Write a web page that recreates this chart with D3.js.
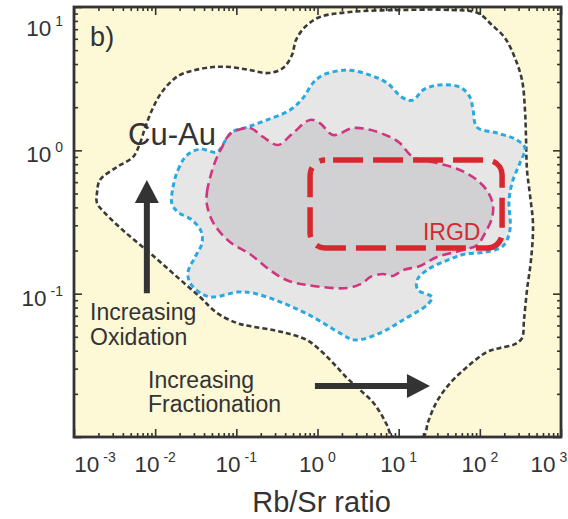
<!DOCTYPE html>
<html><head><meta charset="utf-8">
<script src="https://cdn.jsdelivr.net/npm/d3@7"></script>
<style>
body{margin:0;background:#fff;}
svg{display:block;font-family:"Liberation Sans",Arial,Helvetica,sans-serif;}
</style>
</head><body>
<svg id="chart" width="568" height="519"></svg>
<script>
// ---------- data ----------
const xTickValues = [1e-3, 1e-2, 1e-1, 1e0, 1e1, 1e2, 1e3];
const xTickExponents = ["-3", "-2", "-1", "0", "1", "2", "3"];
const yTickValues = [1e-1, 1e0, 1e1];
const yTickExponents = ["-1", "0", "1"];
const xLabel = "Rb/Sr ratio";
const panelLabel = "b)";

// outer black dashed envelope (Cu-Au)  [Rb/Sr, y]
const cuAuField = [
[1.92e-3,0.504],[2.09e-3,0.621],[3.39e-3,0.765],[5.33e-3,0.898],[6.5e-3,1.12],[7.5e-3,1.43],[9.14e-3,1.91],[1.21e-2,2.55],[1.91e-2,3.30],[3.10e-2,3.63],[5.16e-2,3.81],[8.36e-2,3.81],[0.147,3.63],[0.245,3.46],[0.376,3.75],[0.485,4.62],[0.543,5.88],[0.701,7.25],[1.07,8.51],[2.51,9.22],[10.4,9.53],[42.9,9.53],[94.9,9.08],[141,7.48],[204,6.08],[271,4.40],[331,3.09],[360,1.91],[371,1.18],[381,0.729],[415,0.488],[452,0.301],[427,0.172],[381,0.106],[350,0.0655],[331,0.0490],[271,0.0445],[177,0.0418],[122,0.0392],[69.5,0.0308],[46.7,0.0250],[35.2,0.0206],[28.0,0.0167],[23.0,0.0127],[19.9,0.0100],[8.51,0.0100],[7.18,0.0121],[5.89,0.0149],[4.69,0.0178],[3.34,0.0213],[2.31,0.0258],[1.64,0.0318],[1.14,0.0392],[0.742,0.0475],[0.458,0.0523],[0.283,0.0557],[0.147,0.0594],[0.102,0.0624],[0.0578,0.0733],[0.0357,0.0947],[0.0175,0.135],[8.63e-3,0.192],[4.25e-3,0.269],[2.41e-3,0.365],[1.92e-3,0.429]
];
// blue dotted field
const blueField = [
[0.0166,0.555],[0.0191,0.729],[0.0247,0.927],[0.0357,1.02],[0.0578,0.973],[0.0725,1.16],[0.0885,1.34],[0.135,1.45],[0.239,1.63],[0.458,1.91],[0.663,2.32],[0.880,2.95],[1.17,3.35],[2.31,3.63],[4.43,3.35],[7.18,2.95],[11.3,2.32],[15.0,2.24],[19.9,2.63],[29.7,2.85],[57.0,2.76],[75.6,2.35],[82.4,1.91],[92.3,1.45],[163,1.32],[287,1.18],[360,1.04],[312,0.815],[256,0.621],[229,0.450],[235,0.278],[193,0.215],[116,0.195],[65.6,0.189],[42.9,0.174],[22.3,0.146],[16.8,0.124],[17.3,0.106],[25.7,0.0947],[23.0,0.0847],[11.3,0.0655],[5.89,0.0531],[2.90,0.0475],[1.89,0.0531],[0.880,0.0687],[0.376,0.0861],[0.160,0.101],[0.105,0.1026],[0.0516,0.0947],[0.0378,0.0994],[0.0269,0.119],[0.0254,0.1415],[0.0310,0.180],[0.0378,0.2256],[0.0367,0.2735],[0.0284,0.3266],[0.0191,0.371],[0.0161,0.422]
];
// magenta dashed field
const magentaField = [
[0.0435,0.415],[0.0435,0.512],[0.0474,0.641],[0.0546,0.829],[0.0666,1.05],[0.0836,1.30],[0.147,1.43],[0.213,1.24],[0.326,1.09],[0.499,1.32],[0.808,1.63],[1.07,1.55],[1.55,1.28],[2.74,1.43],[4.43,1.39],[7.82,1.24],[10.4,1.12],[15.0,0.898],[29.7,0.815],[57.0,0.729],[92.3,0.621],[126,0.512],[145,0.415],[141,0.337],[116,0.265],[92.3,0.218],[62.0,0.2015],[29.7,0.180],[18.3,0.156],[11.3,0.146],[8.51,0.133],[6.41,0.137],[4.43,0.1306],[3.64,0.119],[2.31,0.1095],[0.742,0.115],[0.421,0.124],[0.260,0.146],[0.147,0.189],[0.0836,0.229],[0.0531,0.306]
];
// IRGD box corners
const irgdX = [0.81, 188];
const irgdY = [0.208, 0.855];

// annotations
const labelCuAu = {text:"Cu-Au", x:4.63e-3, y:1.09};
const labelIRGD = {text:"IRGD", x:19.9, y:0.237};
const labelPanel = {x:1.58e-3, y:5.34};
const oxidText = {lines:["Increasing","Oxidation"], x:1.58e-3, y:0.0655};
const fracText = {lines:["Increasing","Fractionation"], x:8.17e-3, y:0.022};
const oxidArrow = {x:0.0079, from:0.1007, to:0.621};
const fracArrow = {y:0.0227, from:0.93, to:24.3};

// ---------- layout ----------
const svg = d3.select("#chart");
const L = 74, R = 561, T = 7, B = 437;
const x = d3.scaleLog().domain([1e-3, 1e3]).range([L, R]);
const y = d3.scaleLog().domain([1e-2, 1e1]).range([B, T]);
const ink = "#333";

svg.append("defs").append("clipPath").attr("id","clip")
  .append("rect").attr("x",L).attr("y",T).attr("width",R-L).attr("height",B-T);

svg.append("rect").attr("x",L).attr("y",T).attr("width",R-L).attr("height",B-T).attr("fill","#fdf8d6");

const plot = svg.append("g").attr("clip-path","url(#clip)");
const line = d3.line().x(d=>x(d[0])).y(d=>y(d[1])).curve(d3.curveCatmullRomClosed.alpha(0.5));

plot.append("path").attr("d", line(cuAuField)).attr("fill","#ffffff");
plot.append("path").attr("d", line(blueField)).attr("fill","#e6e6e6");
plot.append("path").attr("d", line(magentaField)).attr("fill","#d1d1d3");

plot.append("path").attr("d", line(cuAuField)).attr("fill","none")
  .attr("stroke","#3a3a3a").attr("stroke-width",2.6).attr("stroke-dasharray","5,3");
plot.append("path").attr("d", line(blueField)).attr("fill","none")
  .attr("stroke","#2aa9e0").attr("stroke-width",3).attr("stroke-dasharray","5,3.5");
plot.append("path").attr("d", line(magentaField)).attr("fill","none")
  .attr("stroke","#d2357f").attr("stroke-width",2.6).attr("stroke-dasharray","9,5");

plot.append("rect")
  .attr("x", x(irgdX[0])).attr("y", y(irgdY[1]))
  .attr("width", x(irgdX[1]) - x(irgdX[0])).attr("height", y(irgdY[0]) - y(irgdY[1]))
  .attr("rx", 15).attr("ry", 15)
  .attr("fill","none").attr("stroke","#d7282f").attr("stroke-width",5.5)
  .attr("stroke-dasharray","30,10").attr("stroke-dashoffset", -8);

// arrows
const ax = x(oxidArrow.x), ay0 = y(oxidArrow.from), ay1 = y(oxidArrow.to);
svg.append("line").attr("x1",ax).attr("x2",ax).attr("y1",ay0).attr("y2",ay1+20)
  .attr("stroke",ink).attr("stroke-width",6);
svg.append("path").attr("d",`M${ax},${ay1} L${ax-12},${ay1+23} L${ax+12},${ay1+23} Z`).attr("fill",ink);
const by = y(fracArrow.y), bx0 = x(fracArrow.from), bx1 = x(fracArrow.to);
svg.append("line").attr("x1",bx0).attr("x2",bx1-20).attr("y1",by).attr("y2",by)
  .attr("stroke",ink).attr("stroke-width",6);
svg.append("path").attr("d",`M${bx1},${by} L${bx1-23},${by-12} L${bx1-23},${by+12} Z`).attr("fill",ink);

// text annotations
svg.append("text").attr("x",x(labelPanel.x)).attr("y",y(labelPanel.y))
  .attr("font-size",27).attr("fill",ink).text(panelLabel);
svg.append("text").attr("x",x(labelCuAu.x)).attr("y",y(labelCuAu.y))
  .attr("font-size",31).attr("fill",ink).text(labelCuAu.text);
svg.append("text").attr("x",x(labelIRGD.x)).attr("y",y(labelIRGD.y))
  .attr("font-size",23).attr("fill","#d7282f").text(labelIRGD.text);
[oxidText, fracText].forEach(t=>{
  const tx = svg.append("text").attr("x",x(t.x)).attr("y",y(t.y)).attr("font-size",23).attr("fill",ink);
  t.lines.forEach((s,i)=>tx.append("tspan").attr("x",x(t.x)).attr("dy", i?24.5:0).text(s));
});

// axes: inward ticks on all four sides
const minorTicks = [];
for (let e=-3; e<3; e++) for (let k=2; k<10; k++) minorTicks.push(k*Math.pow(10,e));
const yMinor = minorTicks.filter(v=>v>1e-2 && v<1e1);
const yMajor = [1e-2,1e-1,1e0,1e1];
function drawAxis(gen, tr, vals, size){
  const g = svg.append("g").attr("transform",tr)
    .call(gen.tickValues(vals).tickSize(size).tickFormat(""));
  g.select(".domain").remove();
  g.selectAll("line").attr("stroke",ink).attr("stroke-width",1.6);
}
drawAxis(d3.axisBottom(x), `translate(0,${B})`, xTickValues, -8);
drawAxis(d3.axisBottom(x), `translate(0,${B})`, minorTicks, -4);
drawAxis(d3.axisTop(x), `translate(0,${T})`, xTickValues, -8);
drawAxis(d3.axisTop(x), `translate(0,${T})`, minorTicks, -4);
drawAxis(d3.axisLeft(y), `translate(${L},0)`, yMajor, -8);
drawAxis(d3.axisLeft(y), `translate(${L},0)`, yMinor, -4);
drawAxis(d3.axisRight(y), `translate(${R},0)`, yMajor, -8);
drawAxis(d3.axisRight(y), `translate(${R},0)`, yMinor, -4);

svg.append("rect").attr("x",L).attr("y",T).attr("width",R-L).attr("height",B-T)
  .attr("fill","none").attr("stroke",ink).attr("stroke-width",2.8);

// tick labels
xTickValues.forEach((v,i)=>{
  const px = Math.min(Math.max(x(v), L+21), R-12);
  const t = svg.append("text").attr("x",px).attr("y",B+35).attr("text-anchor","middle")
    .attr("fill",ink).attr("font-size",22.5);
  t.append("tspan").text("10");
  t.append("tspan").attr("dx",4).attr("dy",-10).attr("font-size",14).text(xTickExponents[i]);
});
yTickValues.forEach((v,i)=>{
  const py = Math.max(y(v)+12, T+29);
  const t = svg.append("text").attr("x",L-11).attr("y",py).attr("text-anchor","end")
    .attr("fill",ink).attr("font-size",22.5);
  t.append("tspan").text("10");
  t.append("tspan").attr("dx",4).attr("dy",-10).attr("font-size",14).text(yTickExponents[i]);
});

svg.append("text").attr("x",(L+R)/2+4).attr("y",512).attr("text-anchor","middle")
  .attr("font-size",29).attr("fill",ink).text(xLabel);
</script>
</body></html>
